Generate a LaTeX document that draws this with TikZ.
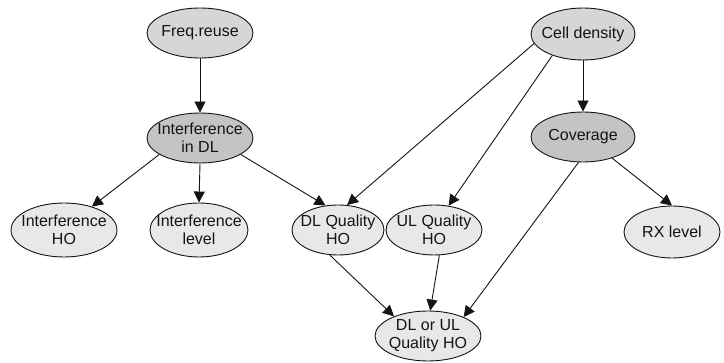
\documentclass[tikz,border=0pt]{standalone}
\usepackage{fontspec}
\setmainfont{Liberation Sans}
\usetikzlibrary{shapes.geometric,arrows.meta}

\definecolor{rootfill}{HTML}{D6D6D6}
\definecolor{midfill}{HTML}{C4C4C4}
\definecolor{leaffill}{HTML}{E8E8E8}
\definecolor{inkline}{HTML}{141414}

\begin{document}
\begin{tikzpicture}[x=1pt,y=1pt,
  font=\fontsize{16}{18}\selectfont,
  bn/.style={ellipse, draw=inkline, line width=0.9pt, inner sep=0pt,
             minimum width=106pt, minimum height=50pt},
  txt/.style={align=center, text=inkline, inner sep=0pt},
  arr/.style={draw=inkline, line width=0.9pt,
              -{Triangle[length=11pt,width=11pt]}}]
  \useasboundingbox (0,0) rectangle (724,362);

  % top-level causes
  \node[bn, fill=rootfill, label={[txt]center:Freq.reuse}] (freq) at (200,329) {};
  \node[bn, fill=rootfill, minimum width=104pt, minimum height=52pt,
        label={[txt]center:Cell density}] (cell) at (583,328) {};

  % intermediate effects
  \node[bn, fill=midfill, label={[txt]center:Interference\\in DL}] (intdl) at (200,224) {};
  \node[bn, fill=midfill, minimum width=104pt,
        label={[txt]center:Coverage}] (cov) at (583,225) {};

  % observed indicators
  \node[bn, fill=leaffill, minimum height=54pt,
        label={[txt]center:Interference\\HO}] (inho) at (64,132) {};
  \node[bn, fill=leaffill, minimum width=98pt, minimum height=54pt,
        label={[txt]center:Interference\\level}] (inlv) at (199,132) {};
  \node[bn, fill=leaffill, minimum width=92pt,
        label={[txt]center:DL Quality\\HO}] (dlq) at (338,132) {};
  \node[bn, fill=leaffill, minimum width=96pt,
        label={[txt]center:UL Quality\\HO}] (ulq) at (434,132) {};
  \node[bn, fill=leaffill, minimum width=96pt, minimum height=52pt,
        label={[txt]center:RX level}] (rx) at (672,130) {};
  \node[bn, fill=leaffill,
        label={[txt]center:DL or UL\\Quality HO}] (dlul) at (428,26) {};

  % dependencies
  \draw[arr] (freq.south) -- (intdl.north);
  \draw[arr] (intdl.202) -- (inho.40);
  \draw[arr] (intdl.south) -- (inlv.north);
  \draw[arr] (intdl.338) -- (dlq.117);
  \draw[arr] (cell.191) -- (dlq.70);
  \draw[arr] (cell.215) -- (ulq.59);
  \draw[arr] (cell.south) -- (cov.north);
  \draw[arr] (cov.324) -- (rx.north);
  \draw[arr] (cov.260) -- (dlul.28);
  \draw[arr] (dlq.252) -- (dlul.150);
  \draw[arr] (ulq.282) -- (dlul.85);
\end{tikzpicture}
\end{document}
